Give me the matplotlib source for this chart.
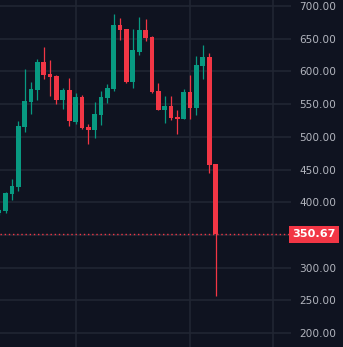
import numpy as np
import matplotlib
matplotlib.use("Agg")
import matplotlib.pyplot as plt

# OHLC values (oldest first)
opens = [383, 386.6, 412.5, 423.2, 515, 553.2, 571.6, 614.4, 596, 593,
         556.3, 571.6, 522.6, 560.9, 515, 510.4, 533.3, 559.3, 573.1, 670.9,
         664.8, 583.8, 629.7, 663.3, 652.6, 570, 541, 547.1, 530.3, 527.2,
         568.5, 544, 608.3, 622, 458.4]
highs = [390, 415.6, 435.5, 524.2, 603.7, 583.8, 619, 637.3, 617.4, 594,
         574.6, 589.9, 567, 563.9, 519.6, 553.2, 570, 580.7, 687.8, 681.7,
         665.5, 664.8, 683.2, 680.1, 653.5, 582.3, 562.4, 562.4, 541, 573.1,
         594.5, 623.6, 640.4, 628.1, 458.4]
lows = [381, 383.5, 403.4, 417.1, 507.3, 534.9, 556.3, 588.4, 562.4, 550.2,
        542.5, 516.5, 519.6, 512.5, 489, 498.2, 518, 551.7, 570, 648,
        582.3, 574.6, 625.1, 646.5, 567.5, 540.5, 521.1, 525.7, 504.3, 526.5,
        527.2, 533.3, 588.4, 444.7, 256.6]
closes = [388.1, 414.1, 424.8, 516.5, 554.7, 573.1, 614.4, 594.5, 591.4, 556.3,
          571.6, 524.2, 560.9, 513.5, 510.4, 534.9, 560.9, 574.6, 670.9, 663.3,
          583.8, 632.7, 663.3, 651.1, 568.5, 541, 547.1, 528.8, 527.2, 568.5,
          544, 609.8, 622, 456.9, 350.67]

last_price = 350.67
price_ticks = [200, 250, 300, 400, 450, 500, 550, 600, 650, 700]
grid_levels = [200, 250, 300, 350, 400, 450, 500, 550, 600, 650, 700]
time_grid = [12, 30, 43]

bg = "#0f1320"
green = "#089981"
red = "#f23645"
grid_col = "#222734"

fig = plt.figure(figsize=(3.43, 3.47), dpi=100, facecolor=bg)
ax = fig.add_axes([0, 0, 291 / 343, 1])
ax.set_facecolor(bg)

x = np.arange(len(opens))
o = np.array(opens)
c = np.array(closes)
up = c >= o
cols = np.where(up, green, red)

# grid
for lv in grid_levels:
    ax.axhline(lv, color=grid_col, lw=1.1, zorder=0)
for gx in time_grid:
    ax.axvline(gx, color=grid_col, lw=1.1, zorder=0)

# wicks and bodies
ax.vlines(x, lows, highs, colors=cols, lw=0.9, zorder=2)
ax.bar(x, np.abs(c - o), bottom=np.minimum(o, c), width=0.74, color=cols,
       linewidth=0, zorder=3)

# last price line
ax.axhline(last_price, color=red, lw=1.0, ls=(0, (1, 2)), zorder=4)

ax.set_xlim(0.135, 45.86)
ax.set_ylim(178.6, 709.2)

ax.yaxis.tick_right()
ax.set_yticks(price_ticks)
ax.set_yticklabels([f"{v:.2f}" for v in price_ticks])
ax.tick_params(axis="y", length=0, pad=6, labelsize=7.6, labelcolor="#b2b5be")
ax.set_xticks([])
for s in ax.spines.values():
    s.set_visible(False)

# last price tag
ax.text(1.006, last_price, f"{last_price:.2f}", transform=ax.get_yaxis_transform(),
        ha="left", va="center", color="white", fontsize=8.1, fontweight="bold",
        clip_on=False, zorder=10,
        bbox=dict(boxstyle="square,pad=0.3", fc=red, ec="none"))

fig.savefig("out.png", dpi=100, facecolor=bg)
